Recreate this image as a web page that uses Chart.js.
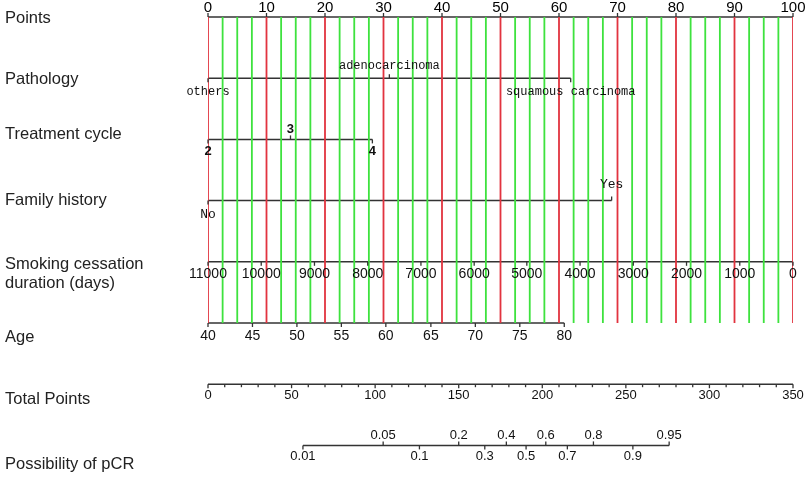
<!DOCTYPE html>
<html><head><meta charset="utf-8">
<script src="https://cdn.jsdelivr.net/npm/chart.js@4/dist/chart.umd.min.js"></script>
<style>html,body{margin:0;padding:0;background:#fff;}canvas{display:block;}</style>
</head><body>
<canvas id="c" width="809" height="480"></canvas>
<script>
// ---- data ----
const pointsTicks = [0,10,20,30,40,50,60,70,80,90,100];
const gridRed = [0,10,20,30,40,50,60,70,80,90,100];
const gridGreen = [2.5,5,7.5,12.5,15,17.5,22.5,25,27.5,32.5,35,37.5,42.5,45,47.5,52.5,55,57.5,62.5,65,67.5,72.5,75,77.5,82.5,85,87.5,92.5,95,97.5];
const pathologyLevels = ['others','adenocarcinoma','squamous carcinoma'];
const pathologyPoints = [0,31,62];
const treatmentLevels = ['2','3','4'];
const treatmentPoints = [0,14.1,28.1];
const familyLevels = ['No','Yes'];
const familyPoints = [0,69];
const smokingDays = [11000,10000,9000,8000,7000,6000,5000,4000,3000,2000,1000,0];
const smokingPoints = [0,9.1,18.2,27.3,36.4,45.5,54.5,63.6,72.7,81.8,90.9,100];
const ageTicks = [40,45,50,55,60,65,70,75,80];
const agePoints = [0,7.6,15.2,22.8,30.4,38.1,45.7,53.3,60.9];
const totalTicks = [0,50,100,150,200,250,300,350];
const totalMinor = [10,20,30,40,60,70,80,90,110,120,130,140,160,170,180,190,210,220,230,240,260,270,280,290,310,320,330,340];
const probLevels = [0.01,0.05,0.1,0.2,0.3,0.4,0.5,0.6,0.7,0.8,0.9,0.95];
const probTotal = [56.8,104.8,126.5,150.0,165.6,178.5,190.3,202.1,215.0,230.6,254.2,275.9];
const rowNames = [['Points'],['Pathology'],['Treatment cycle'],['Family history'],['Smoking cessation','duration (days)'],['Age'],['Total Points'],['Possibility of pCR']];

// ---- build datasets ----
const AX = '#333333';
function vlines(xs){const d=[];xs.forEach(x=>{d.push({x:x,y:0});d.push({x:x,y:5});d.push({x:x,y:null});});return d;}
function hline(a,b,row,axis){return {data:[{x:a,y:row},{x:b,y:row}],borderColor:AX,borderWidth:1.5,pointRadius:0,showLine:true,xAxisID:axis||'x'};}
const datasets = [
  {data:vlines(gridGreen),borderColor:'#3ee23e',borderWidth:1.8,pointRadius:0,showLine:true,spanGaps:false},
  {data:vlines(gridRed),borderColor:'#e2333f',borderWidth:1.8,pointRadius:0,showLine:true,spanGaps:false},
  hline(pointsTicks[0],pointsTicks[pointsTicks.length-1],0),
  hline(Math.min(...pathologyPoints),Math.max(...pathologyPoints),1),
  hline(Math.min(...treatmentPoints),Math.max(...treatmentPoints),2),
  hline(Math.min(...familyPoints),Math.max(...familyPoints),3),
  hline(Math.min(...smokingPoints),Math.max(...smokingPoints),4),
  hline(Math.min(...agePoints),Math.max(...agePoints),5),
  hline(totalTicks[0],totalTicks[totalTicks.length-1],6,'x2'),
  hline(probTotal[0],probTotal[probTotal.length-1],7,'x2')
];

const SANS = '"Liberation Sans", Arial, sans-serif';
const MONO = '"Liberation Mono", "DejaVu Sans Mono", monospace';

const nomoPlugin = {
  id:'nomo',
  afterDatasetsDraw(chart){
    const ctx = chart.ctx;
    const sx = chart.scales.x, sx2 = chart.scales.x2, sy = chart.scales.y;
    const ry = i => sy.getPixelForValue(i);
    ctx.save();
    ctx.strokeStyle = AX; ctx.lineWidth = 1.3;
    function tick(x,y,dir,len){ctx.beginPath();ctx.moveTo(x,y);ctx.lineTo(x,y+dir*len);ctx.stroke();}
    function text(t,x,y,font,color){ctx.font=font;ctx.fillStyle=color||'#111';ctx.textAlign='center';ctx.textBaseline='middle';ctx.fillText(t,x,y);}
    // Points row
    pointsTicks.forEach(v=>{const x=sx.getPixelForValue(v);tick(x,ry(0),-1,4);text(String(v),x,ry(0)-9.5,'15px '+SANS,'#000');});
    // categorical rows: alternate below/above
    function cat(levels,pts,row,font,offB,offA){
      levels.forEach((l,i)=>{const x=sx.getPixelForValue(pts[i]);const y=ry(row);
        if(i%2===0){tick(x,y,1,4);text(l,x,y+offB,font);}else{tick(x,y,-1,4);text(l,x,y-offA,font);}});
    }
    cat(pathologyLevels,pathologyPoints,1,'12px '+MONO,14,12);
    cat(treatmentLevels,treatmentPoints,2,'bold 13px '+SANS,12,10);
    cat(familyLevels,familyPoints,3,'13px '+MONO,14,16);
    // smoking
    smokingDays.forEach((d,i)=>{const x=sx.getPixelForValue(smokingPoints[i]);tick(x,ry(4),1,4);text(String(d),x,ry(4)+12,'14px '+SANS);});
    // age
    ageTicks.forEach((a,i)=>{const x=sx.getPixelForValue(agePoints[i]);tick(x,ry(5),1,4);text(String(a),x,ry(5)+13,'14px '+SANS);});
    // total points
    totalMinor.forEach(v=>tick(sx2.getPixelForValue(v),ry(6),1,3));
    totalTicks.forEach(v=>{const x=sx2.getPixelForValue(v);tick(x,ry(6),1,4);text(String(v),x,ry(6)+11,'13px '+SANS);});
    // probability
    probLevels.forEach((p,i)=>{const x=sx2.getPixelForValue(probTotal[i]);const y=ry(7);
      if(i%2===0){tick(x,y,1,4);text(String(p),x,y+11,'13px '+SANS);}else{tick(x,y,-1,4);text(String(p),x,y-10,'13px '+SANS);}});
    // row names
    const nameOff = [1,1,-5,0,3,14,15,19];
    ctx.font='16.5px '+SANS;ctx.fillStyle='#222';ctx.textAlign='left';ctx.textBaseline='middle';
    rowNames.forEach((n,i)=>{n.forEach((line,j)=>ctx.fillText(line,5,ry(i)+nameOff[i]+j*19));});
    ctx.restore();
  }
};

new Chart(document.getElementById('c'),{
  type:'scatter',
  data:{datasets:datasets},
  options:{
    responsive:false,animation:false,devicePixelRatio:1,
    layout:{padding:{left:208,right:16,top:0,bottom:0}},
    plugins:{legend:{display:false},tooltip:{enabled:false}},
    scales:{
      x:{type:'linear',min:0,max:100,display:false},
      x2:{type:'linear',axis:'x',min:0,max:350,display:false},
      y:{type:'linear',min:-17/61.2,max:(480-17)/61.2,reverse:true,display:false}
    }
  },
  plugins:[nomoPlugin]
});
</script>
</body></html>
